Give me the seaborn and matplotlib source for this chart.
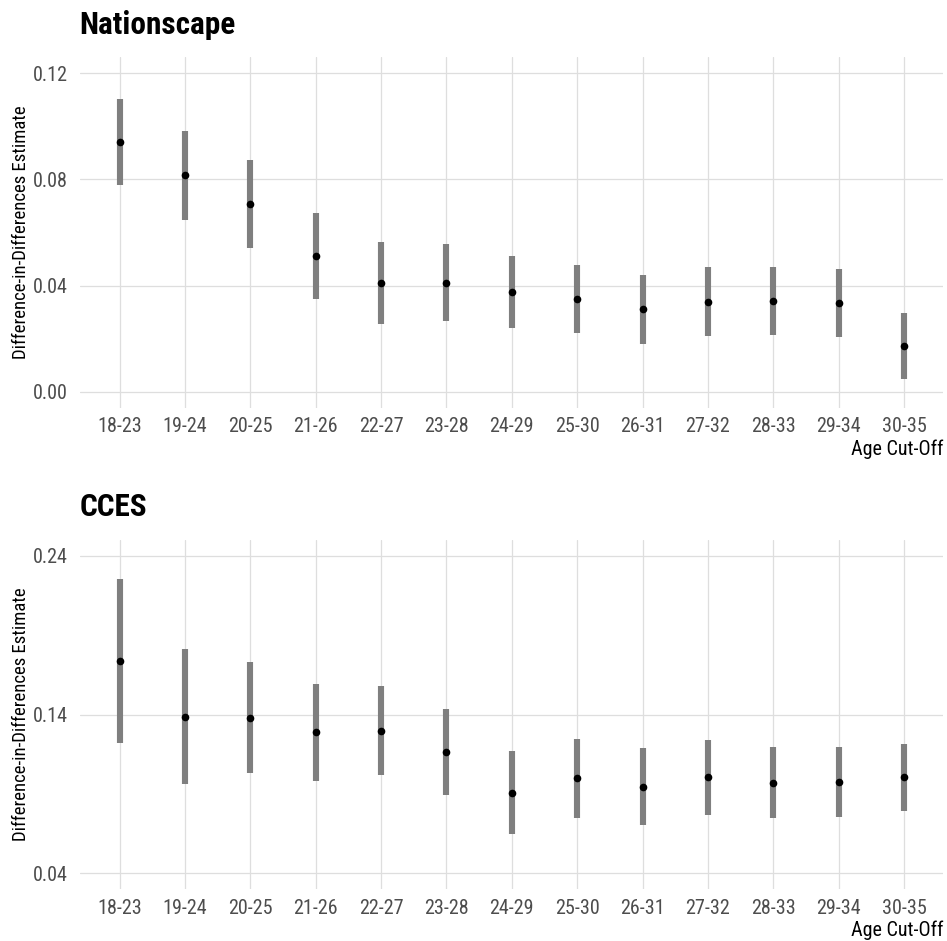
import seaborn as sns
import pandas as pd
import matplotlib.pyplot as plt

# age windows used as cut-offs
cutoffs = ["18-23", "19-24", "20-25", "21-26", "22-27", "23-28", "24-29",
           "25-30", "26-31", "27-32", "28-33", "29-34", "30-35"]

# Nationscape estimates + 95% CI
ns_est = [0.0940, 0.0816, 0.0708, 0.0512, 0.0410, 0.0411, 0.0377,
          0.0349, 0.0311, 0.0339, 0.0343, 0.0333, 0.0173]
ns_lo = [0.0779, 0.0646, 0.0542, 0.0350, 0.0255, 0.0266, 0.0241,
         0.0221, 0.0180, 0.0210, 0.0214, 0.0206, 0.0049]
ns_hi = [0.1102, 0.0984, 0.0873, 0.0674, 0.0563, 0.0556, 0.0512,
         0.0478, 0.0440, 0.0469, 0.0471, 0.0461, 0.0297]

# CCES estimates + 95% CI
cc_est = [0.1737, 0.1386, 0.1380, 0.1288, 0.1298, 0.1164, 0.0908,
          0.0998, 0.0945, 0.1004, 0.0971, 0.0973, 0.1004]
cc_lo = [0.1220, 0.0964, 0.1030, 0.0983, 0.1019, 0.0895, 0.0647,
         0.0750, 0.0704, 0.0767, 0.0750, 0.0756, 0.0794]
cc_hi = [0.2253, 0.1810, 0.1730, 0.1594, 0.1579, 0.1433, 0.1170,
         0.1246, 0.1187, 0.1239, 0.1193, 0.1193, 0.1214]

ns_ticks = [0.00, 0.04, 0.08, 0.12]
cc_ticks = [0.04, 0.14, 0.24]

sns.set_theme(style="whitegrid")
plt.rcParams['font.family'] = ['Roboto Condensed', 'Roboto', 'DejaVu Sans']

fig = plt.figure(figsize=(9.47, 9.41), dpi=100)
ax1 = fig.add_axes([0.085, 0.5668, 0.911, 0.3722])
ax2 = fig.add_axes([0.085, 0.0550, 0.911, 0.3713])


def panel(ax, title, est, lo, hi, ticks, ylim):
    df = pd.DataFrame({"cut": cutoffs, "est": est, "lo": lo, "hi": hi})
    pos = range(len(df))
    ax.vlines(pos, df["lo"], df["hi"], color="#7f7f7f", linewidth=4.4, zorder=2)
    sns.pointplot(data=df, x="cut", y="est", ax=ax, color="black",
                  linestyle="none", errorbar=None, markersize=5.5,
                  markeredgewidth=0, zorder=3)
    ax.set_xlim(-0.6, len(df) - 0.4)
    ax.set_ylim(*ylim)
    ax.set_yticks(ticks)
    ax.set_yticklabels([f"{t:.2f}" for t in ticks])
    for s in ax.spines.values():
        s.set_visible(False)
    ax.grid(True, color="#dedede", linewidth=0.9)
    ax.set_axisbelow(True)
    ax.tick_params(axis="both", length=0, labelsize=14.5, labelcolor="#4d4d4d")
    ax.tick_params(axis="x", pad=7)
    ax.tick_params(axis="y", pad=9)
    ax.set_ylabel("Difference-in-Differences Estimate", fontsize=13.5,
                  color="black", labelpad=2)
    ax.set_xlabel("Age Cut-Off", fontsize=14.5, color="black",
                  loc="right", labelpad=2)
    ax.set_title(title, loc="left", fontsize=22.5, fontweight="bold",
                 color="black", pad=17, x=-0.001)


panel(ax1, "Nationscape", ns_est, ns_lo, ns_hi, ns_ticks, (-0.006, 0.126))
panel(ax2, "CCES", cc_est, cc_lo, cc_hi, cc_ticks, (0.03, 0.25))

plt.savefig("out.png", dpi=100)
